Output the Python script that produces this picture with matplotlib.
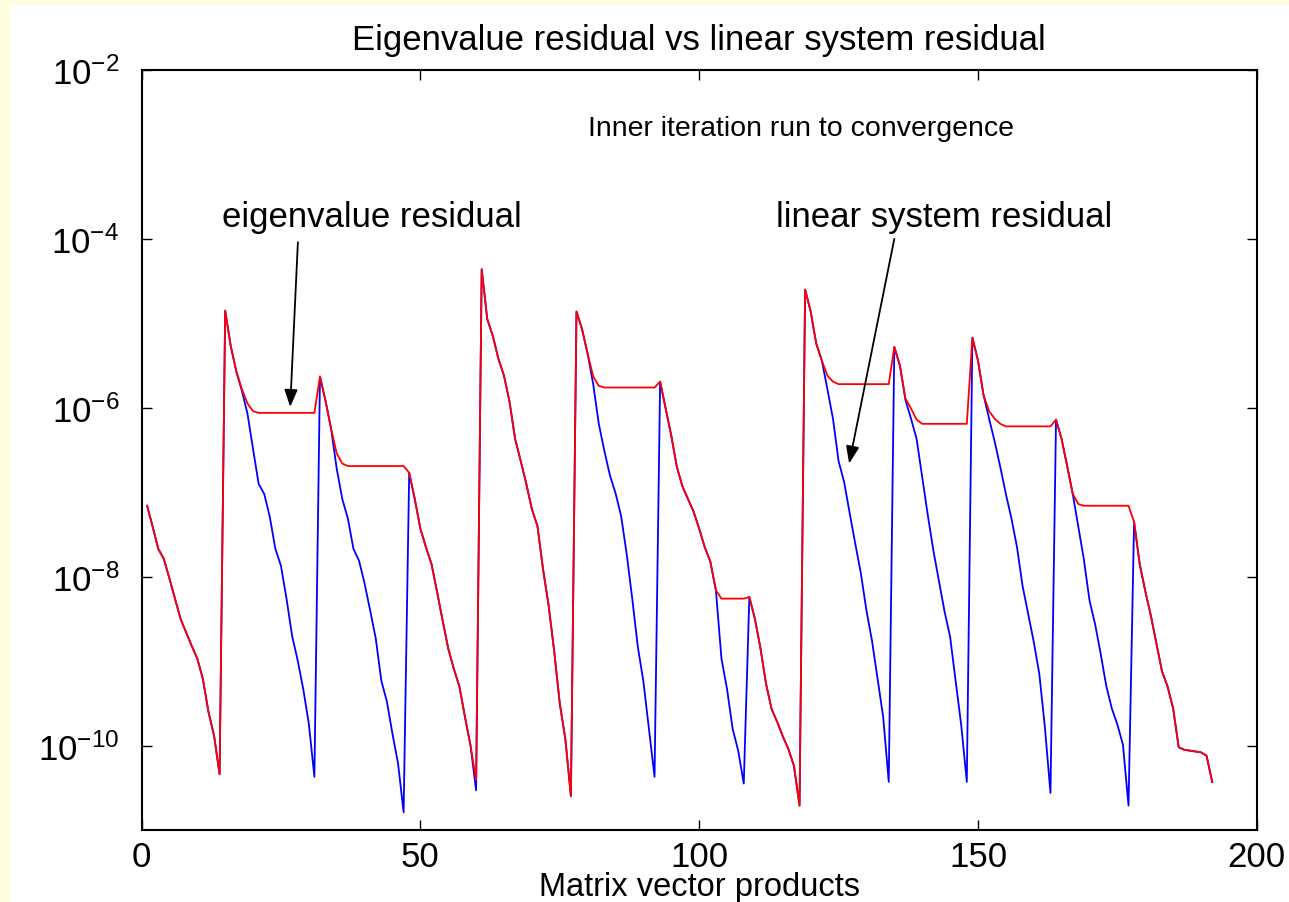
import numpy as np
import matplotlib
matplotlib.use('agg')
import matplotlib.pyplot as plt
from matplotlib.patches import Rectangle
from matplotlib.ticker import FixedLocator, NullLocator, LogFormatterSciNotation

plt.rcParams['font.family'] = ['Liberation Sans', 'DejaVu Sans']
plt.rcParams['mathtext.fontset'] = 'custom'
plt.rcParams['mathtext.rm'] = 'Liberation Sans'
plt.rcParams['mathtext.it'] = 'Liberation Sans:italic'
plt.rcParams['mathtext.default'] = 'regular'

# log10 of the residuals, one list per outer iteration
# linear system residual (inner solver)
lin_log = [
    # 1-14
    -7.16, -7.41, -7.67, -7.79, -8.02, -8.26, -8.50, -8.66, -8.82, -8.97, -9.21, -9.60, -9.88, -10.34,
    # 15-31
    -4.85, -5.27, -5.57, -5.80, -6.07, -6.49, -6.90, -7.02, -7.29, -7.67, -7.87, -8.26, -8.70, -8.99,
    -9.33, -9.74, -10.37,
    # 32-47
    -5.63, -5.92, -6.25, -6.72, -7.08, -7.31, -7.67, -7.81, -8.08, -8.40, -8.73, -9.23, -9.48, -9.86,
    -10.21, -10.79,
    # 48-60
    -6.77, -7.08, -7.43, -7.65, -7.85, -8.18, -8.52, -8.85, -9.09, -9.30, -9.66, -10.00, -10.53,
    # 61-77
    -4.36, -4.95, -5.15, -5.42, -5.62, -5.93, -6.37, -6.63, -6.90, -7.20, -7.40, -7.91, -8.34, -8.88,
    -9.50, -9.92, -10.60,
    # 78-92
    -4.86, -5.07, -5.36, -5.72, -6.19, -6.51, -6.80, -7.01, -7.28, -7.73, -8.26, -8.83, -9.24, -9.80,
    -10.37,
    # 93-108
    -5.69, -6.01, -6.33, -6.70, -6.93, -7.08, -7.23, -7.43, -7.65, -7.82, -8.16, -8.97, -9.33, -9.80,
    -10.06, -10.45,
    # 109-118
    -8.24, -8.50, -8.85, -9.27, -9.57, -9.72, -9.89, -10.04, -10.24, -10.71,
    # 119-134
    -4.60, -4.86, -5.24, -5.44, -5.78, -6.13, -6.63, -6.88, -7.25, -7.61, -7.96, -8.40, -8.76, -9.21,
    -9.66, -10.43,
    # 135-148
    -5.28, -5.50, -5.91, -6.13, -6.37, -6.82, -7.27, -7.69, -8.05, -8.41, -8.71, -9.24, -9.76, -10.43,
    # 149-163
    -5.17, -5.44, -5.85, -6.13, -6.40, -6.70, -7.02, -7.31, -7.65, -8.11, -8.44, -8.77, -9.15, -9.78,
    -10.56,
    # 164-177
    -6.14, -6.37, -6.69, -7.02, -7.41, -7.80, -8.28, -8.56, -8.91, -9.29, -9.56, -9.75, -9.99, -10.71,
    # 178-192
    -7.35, -7.85, -8.17, -8.46, -8.79, -9.12, -9.30, -9.56, -10.02, -10.05, -10.06, -10.07, -10.08,
    -10.12, -10.43,
]

# eigenvalue residual (outer iteration)
eig_log = [
    # 1-14
    -7.16, -7.41, -7.67, -7.79, -8.02, -8.26, -8.50, -8.66, -8.82, -8.97, -9.21, -9.60, -9.88, -10.34,
    # 15-31
    -4.85, -5.27, -5.57, -5.78, -5.95, -6.04, -6.06, -6.06, -6.06, -6.06, -6.06, -6.06, -6.06, -6.06,
    -6.06, -6.06, -6.06,
    # 32-47
    -5.63, -5.92, -6.25, -6.54, -6.66, -6.69, -6.69, -6.69, -6.69, -6.69, -6.69, -6.69, -6.69, -6.69,
    -6.69, -6.69,
    # 48-60
    -6.77, -7.08, -7.43, -7.65, -7.85, -8.18, -8.52, -8.85, -9.09, -9.30, -9.66, -10.00, -10.41,
    # 61-77
    -4.36, -4.95, -5.15, -5.42, -5.62, -5.93, -6.37, -6.63, -6.90, -7.20, -7.40, -7.91, -8.34, -8.88,
    -9.50, -9.92, -10.60,
    # 78-92
    -4.86, -5.07, -5.36, -5.63, -5.74, -5.76, -5.76, -5.76, -5.76, -5.76, -5.76, -5.76, -5.76, -5.76,
    -5.76,
    # 93-108
    -5.69, -6.01, -6.33, -6.70, -6.93, -7.08, -7.23, -7.43, -7.65, -7.82, -8.16, -8.26, -8.26, -8.26,
    -8.26, -8.26,
    # 109-118
    -8.24, -8.50, -8.85, -9.27, -9.57, -9.72, -9.89, -10.04, -10.24, -10.71,
    # 119-134
    -4.60, -4.86, -5.24, -5.44, -5.62, -5.69, -5.72, -5.72, -5.72, -5.72, -5.72, -5.72, -5.72, -5.72,
    -5.72, -5.72,
    # 135-148
    -5.28, -5.50, -5.89, -6.01, -6.14, -6.19, -6.19, -6.19, -6.19, -6.19, -6.19, -6.19, -6.19, -6.19,
    # 149-163
    -5.17, -5.44, -5.85, -6.04, -6.13, -6.19, -6.22, -6.22, -6.22, -6.22, -6.22, -6.22, -6.22, -6.22,
    -6.22,
    # 164-177
    -6.14, -6.37, -6.69, -7.02, -7.14, -7.16, -7.16, -7.16, -7.16, -7.16, -7.16, -7.16, -7.16, -7.16,
    # 178-192
    -7.35, -7.85, -8.17, -8.46, -8.79, -9.12, -9.30, -9.56, -10.02, -10.05, -10.06, -10.07, -10.08,
    -10.12, -10.43,
]

matvecs = np.arange(1, len(lin_log) + 1)
lin_res = 10.0 ** np.array(lin_log)
eig_res = 10.0 ** np.array(eig_log)

fig = plt.figure(figsize=(12.89, 9.03), dpi=100, facecolor='white')
# pale yellow frame strip on the left and top
fig.patches.append(Rectangle((0, 0), 10 / 1289, 1, transform=fig.transFigure,
                             facecolor='#fffde0', edgecolor='none', zorder=-10))
fig.patches.append(Rectangle((0, 1 - 6 / 903), 1, 6 / 903, transform=fig.transFigure,
                             facecolor='#fffde0', edgecolor='none', zorder=-10))

ax = fig.add_axes([0.1098, 0.0797, 0.8652, 0.8417])
ax.semilogy(matvecs, lin_res, color='#0000ff', lw=1.3)
ax.semilogy(matvecs, eig_res, color='#ff0000', lw=1.3)

ax.set_xlim(0, 200)
ax.set_ylim(1e-11, 1e-2)
ax.xaxis.set_major_locator(FixedLocator([0, 50, 100, 150, 200]))
ax.yaxis.set_major_locator(FixedLocator([1e-10, 1e-8, 1e-6, 1e-4, 1e-2]))
ax.yaxis.set_major_formatter(LogFormatterSciNotation())
ax.yaxis.set_minor_locator(NullLocator())
ax.tick_params(which='major', direction='in', length=7.5, width=1.0,
               top=True, right=True, labelsize=25)
ax.tick_params(axis='x', pad=7)
ax.tick_params(axis='y', pad=16)
for s in ax.spines.values():
    s.set_linewidth(1.5)

ax.set_title('Eigenvalue residual vs linear system residual', fontsize=25, pad=15)
ax.set_xlabel('Matrix vector products', fontsize=23.5, labelpad=-1.5)

ax.text(80.0, 10 ** -2.77, 'Inner iteration run to convergence', fontsize=20.5)
ax.text(14.45, 10 ** -3.85, 'eigenvalue residual', fontsize=25)
ax.text(113.7, 10 ** -3.85, 'linear system residual', fontsize=25)

arrow = dict(arrowstyle='-|>,head_length=0.55,head_width=0.21', mutation_scale=19,
             color='k', lw=1.3, shrinkA=0, shrinkB=0)
ax.annotate('', xy=(26.66, 10 ** -5.99), xytext=(28.04, 10 ** -4.04), arrowprops=arrow)
ax.annotate('', xy=(126.9, 10 ** -6.66), xytext=(135.0, 10 ** -4.0), arrowprops=arrow)

fig.savefig('out.png', dpi=100, facecolor=fig.get_facecolor())
